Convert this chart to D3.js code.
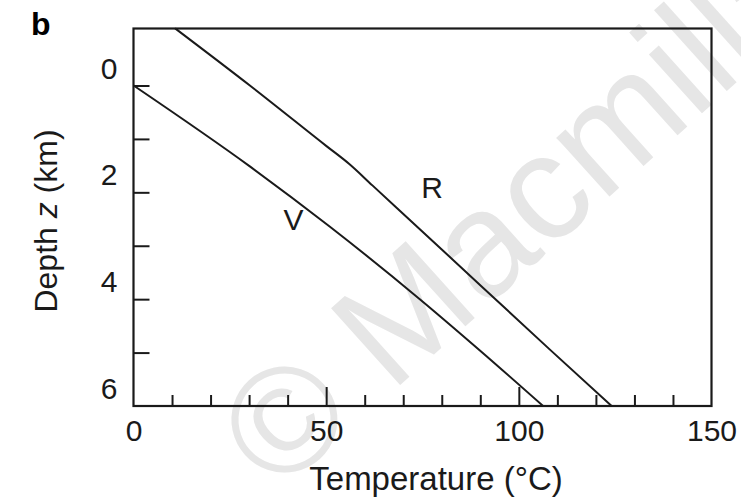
<!DOCTYPE html>
<html>
<head>
<meta charset="utf-8">
<script src="https://cdn.jsdelivr.net/npm/d3@7"></script>
<style>
  html, body { margin: 0; padding: 0; background: #fff; }
  svg { display: block; font-family: "Liberation Sans", Arial, Helvetica, sans-serif; }
</style>
</head>
<body>
<svg id="chart" width="741" height="499"></svg>
<script>
// ---- data ----
const tempV  = [0, 30.1, 50.9, 74.3, 89.9, 106.3];
const depthV = [0, 1.51, 2.64, 4.0, 4.96, 6.0];
const tempR  = [10.8, 30.2, 50, 56, 62, 80, 108, 124.1];
const depthR = [-1.07, 0.0, 1.13, 1.47, 1.87, 3.07, 4.94, 6.0];
const xTickLabels = [0, 50, 100, 150];
const xMinorTicks = [10, 20, 30, 40, 60, 70, 80, 90, 110, 120, 130, 140];
const xMajorTicks = [50, 100];
const yTicks = [0, 1, 2, 3, 4, 5];
const yTickLabels = [0, 2, 4, 6];
const seriesLabels = [{name: "R", t: 77.5, z: 2.1}, {name: "V", t: 41.5, z: 2.7}];

const svg = d3.select("#chart");
const pL = 133.5, pR = 711.5, pT = 28.5, pB = 406;

const x = d3.scaleLinear().domain([0, 150]).range([pL, pR]);
const y = d3.scaleLinear().domain([-1.067, 6]).range([pT, pB]);

const ink = "#1a1a1a";

// watermark
svg.append("text")
  .attr("transform", "translate(278,495) rotate(-42)")
  .attr("font-size", 150)
  .attr("fill", "#e6e6e6")
  .text("© Macmillan");

// frame
svg.append("rect")
  .attr("x", pL).attr("y", pT)
  .attr("width", pR - pL).attr("height", pB - pT)
  .attr("fill", "none").attr("stroke", ink).attr("stroke-width", 2.2);

// x minor ticks
const xMinor = svg.append("g").attr("transform", `translate(0,${pB})`)
  .call(d3.axisBottom(x).tickValues(xMinorTicks).tickSize(-11).tickFormat(""));
// x major ticks
const xMajor = svg.append("g").attr("transform", `translate(0,${pB})`)
  .call(d3.axisBottom(x).tickValues(xMajorTicks).tickSize(-19).tickFormat(""));
// x labels
const xLab = svg.append("g").attr("transform", `translate(0,${pB})`)
  .call(d3.axisBottom(x).tickValues(xTickLabels).tickSize(0).tickPadding(14).tickFormat(d3.format("d")));

// y ticks
const yAx = svg.append("g").attr("transform", `translate(${pL},0)`)
  .call(d3.axisLeft(y).tickValues(yTicks).tickSize(-16).tickFormat(""));
// y labels (sit above their ticks, as in the reference)
const yLab = svg.append("g").attr("transform", `translate(${pL},-17)`)
  .call(d3.axisLeft(y).tickValues(yTickLabels).tickSize(0).tickPadding(16).tickFormat(d3.format("d")));

[xMinor, xMajor, xLab, yAx, yLab].forEach(g => {
  g.select(".domain").remove();
  g.selectAll("line").attr("stroke", ink).attr("stroke-width", 2);
  g.selectAll("text").attr("fill", ink).attr("font-size", 30)
    .attr("font-family", "'Liberation Sans', Arial, sans-serif");
});

// lines
const line = d3.line().x(d => x(d[0])).y(d => y(d[1])).curve(d3.curveMonotoneX);
const dataV = tempV.map((t, i) => [t, depthV[i]]);
const dataR = tempR.map((t, i) => [t, depthR[i]]);
svg.append("path").datum(dataV).attr("d", line)
  .attr("fill", "none").attr("stroke", ink).attr("stroke-width", 2);
svg.append("path").datum(dataR).attr("d", line)
  .attr("fill", "none").attr("stroke", ink).attr("stroke-width", 2);

// series labels
svg.selectAll(".slab").data(seriesLabels).enter().append("text")
  .attr("class", "slab")
  .attr("x", d => x(d.t)).attr("y", d => y(d.z))
  .attr("text-anchor", "middle").attr("font-size", 30).attr("fill", ink)
  .text(d => d.name);

// axis titles
svg.append("text")
  .attr("x", 436).attr("y", 490)
  .attr("text-anchor", "middle").attr("font-size", 33).attr("fill", ink)
  .text("Temperature (°C)");

const yt = svg.append("text")
  .attr("transform", "translate(57,221) rotate(-90)")
  .attr("text-anchor", "middle").attr("font-size", 32).attr("fill", ink);
yt.append("tspan").text("Depth ");
yt.append("tspan").attr("font-style", "italic").text("z");
yt.append("tspan").text(" (km)");

// panel letter
svg.append("text")
  .attr("x", 31).attr("y", 35)
  .attr("font-size", 32).attr("font-weight", "bold").attr("fill", "#000")
  .text("b");
</script>
</body>
</html>
